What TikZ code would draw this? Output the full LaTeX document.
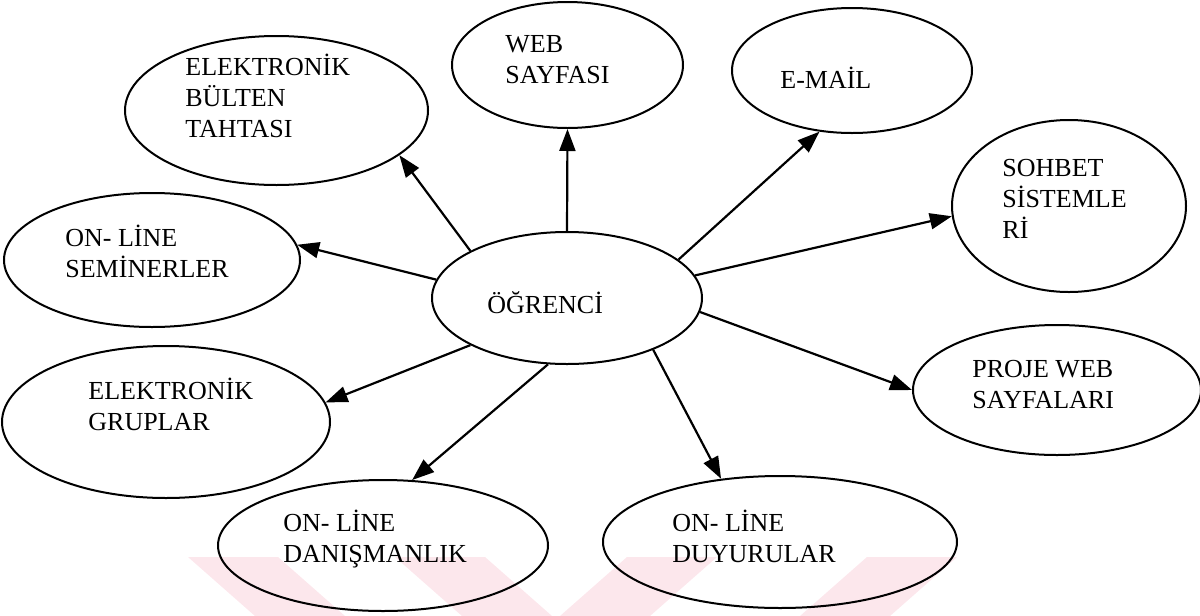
\documentclass[tikz,border=0pt]{standalone}
\usepackage{fontspec}
\setmainfont{Liberation Serif}
\usetikzlibrary{shapes.geometric,arrows.meta}
\definecolor{wmark}{RGB}{252,231,236}
\begin{document}
\begin{tikzpicture}[x=0.5pt,y=-0.5pt,
  bubble/.style={draw,ellipse,line width=1pt,inner sep=0pt},
  lbl/.style={anchor=base west,inner sep=0pt,align=left,
    font=\fontsize{13}{15.5}\selectfont},
  link/.style={line width=1.1pt,-{Triangle[length=11pt,width=8pt]}}]
  \def\band#1#2{%
    \fill[wmark] (#1,616) -- ++(90,0) -- ++(#2,-59) -- ++(-90,0) -- cycle;
  }
  \useasboundingbox (0,0) rectangle (1200,616);

  % watermark
  \band{255}{-67}
  \band{462}{-67}
  \band{560}{67}
  \band{800}{67}

  % ellipses
  \node[bubble,minimum width=135pt,minimum height=66pt] (ogr) at (567,298) {};
  \node[bubble,minimum width=151.5pt,minimum height=74.5pt] (bulten) at (276.5,110.5) {};
  \node[bubble,minimum width=115.5pt,minimum height=63pt] (web) at (567.5,65) {};
  \node[bubble,minimum width=120pt,minimum height=62.5pt] (email) at (852,70.5) {};
  \node[bubble,minimum width=117pt,minimum height=86pt] (sohbet) at (1069,206) {};
  \node[bubble,minimum width=144pt,minimum height=65pt] (proje) at (1057,390) {};
  \node[bubble,minimum width=148pt,minimum height=67pt] (semin) at (152,260) {};
  \node[bubble,minimum width=164pt,minimum height=76pt] (grup) at (166,422) {};
  \node[bubble,minimum width=165pt,minimum height=65.5pt] (danis) at (383,545.5) {};
  \node[bubble,minimum width=177pt,minimum height=66pt] (duyuru) at (780,542) {};

  % texts (anchored at the last baseline)
  \node[lbl] (ogrT) at (487,313) {ÖĞRENCİ};
  \node[lbl] (bultenT) at (185,137) {ELEKTRONİK\\BÜLTEN\\TAHTASI};
  \node[lbl] (webT) at (505,83) {WEB\\SAYFASI};
  \node[lbl] (emailT) at (780,88) {E-MAİL};
  \node[lbl] (sohbetT) at (1002,238) {SOHBET\\SİSTEMLE\\Rİ};
  \node[lbl] (projeT) at (972,408) {PROJE WEB\\SAYFALARI};
  \node[lbl] (seminT) at (65,277) {ON- LİNE\\SEMİNERLER};
  \node[lbl] (grupT) at (88,430) {ELEKTRONİK\\GRUPLAR};
  \node[lbl] (danisT) at (283,562) {ON- LİNE\\DANIŞMANLIK};
  \node[lbl] (duyuruT) at (672,562) {ON- LİNE\\DUYURULAR};

  % arrows
  \draw[link] (ogr.154.6) -- (bulten.-20.4);
  \draw[link] (ogr.90) -- (web.-90);
  \draw[link] (ogr.19.2) -- (email.242);
  \draw[link] (ogr.10.9) -- (sohbet.185.4);
  \draw[link] (ogr.-6.3) -- (proje.180);
  \draw[link] (ogr.-31) -- (duyuru.133);
  \draw[link] (ogr.254) -- (danis.66.7);
  \draw[link] (ogr.206) -- (grup.7.3);
  \draw[link] (ogr.172.4) -- (semin.6.4);
\end{tikzpicture}
\end{document}
